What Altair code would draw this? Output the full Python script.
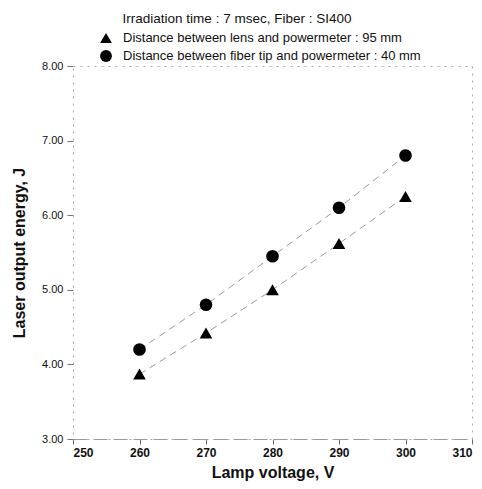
import altair as alt
import pandas as pd

voltage = [260, 270, 280, 290, 300]
lens_95 = [3.87, 4.42, 5.00, 5.62, 6.25]
fiber_40 = [4.20, 4.80, 5.45, 6.10, 6.80]
series_names = [
    "Distance between lens and powermeter : 95 mm",
    "Distance between fiber tip and powermeter : 40 mm",
]
title_text = "Irradiation time : 7 msec, Fiber : SI400"

rows = []
for v, a, b in zip(voltage, lens_95, fiber_40):
    rows.append({"V": v, "E": a, "s": series_names[0]})
    rows.append({"V": v, "E": b, "s": series_names[1]})
df = pd.DataFrame(rows)

font = "Liberation Sans"

x = alt.X("V:Q", title="Lamp voltage, V",
          scale=alt.Scale(domain=[250, 310], nice=False, zero=False),
          axis=alt.Axis(values=[250, 260, 270, 280, 290, 300, 310], format="d",
                        labelFont=font, labelFontSize=12, labelFontWeight="bold",
                        labelColor="#111", titleFont=font, titleFontSize=16,
                        titleFontWeight="bold", titleColor="#111", titlePadding=6,
                        grid=False, domainColor="#999", domainDash=[14, 6],
                        tickColor="#666", tickSize=5, labelPadding=3))
y = alt.Y("E:Q", title="Laser output energy, J",
          scale=alt.Scale(domain=[3, 8], nice=False, zero=False),
          axis=alt.Axis(values=[3, 4, 5, 6, 7, 8], format=".2f",
                        labelFont=font, labelFontSize=11, labelColor="#111",
                        titleFont=font, titleFontSize=16, titleFontWeight="bold",
                        titleColor="#111", titlePadding=14, grid=False,
                        domain=False, tickColor="#777", tickSize=6, labelPadding=4))

lines = alt.Chart(df).mark_line(color="#9a9a9a", strokeWidth=1, strokeDash=[7, 5]).encode(
    x=x, y=y, detail="s:N")

pts = alt.Chart(df).mark_point(filled=True, color="black", opacity=1, size=160).encode(
    x=x, y=y,
    shape=alt.Shape("s:N", scale=alt.Scale(domain=series_names, range=["triangle-up", "circle"]),
                    legend=alt.Legend(title=None, orient="none", legendX=26, legendY=-35,
                                      labelFont=font, labelFontSize=13, labelColor="#111",
                                      symbolFillColor="black", symbolStrokeColor="black",
                                      symbolSize=140, symbolOpacity=1,
                                      rowPadding=0, labelOffset=10, labelLimit=400)),
)

chart = (lines + pts).properties(
    width=399, height=373,
    autosize=alt.AutoSizeParams(type="none"),
    padding={"left": 65, "top": 58, "right": 2, "bottom": 42},
    title=alt.Title(title_text, font=font, fontSize=13.5, fontWeight="normal", color="#111",
                    anchor="start", dx=111, offset=6),
).configure_view(stroke="#aaa", strokeDash=[2, 5], strokeWidth=1)

chart.save("out.html", embed_options={"renderer": "svg", "actions": False})
